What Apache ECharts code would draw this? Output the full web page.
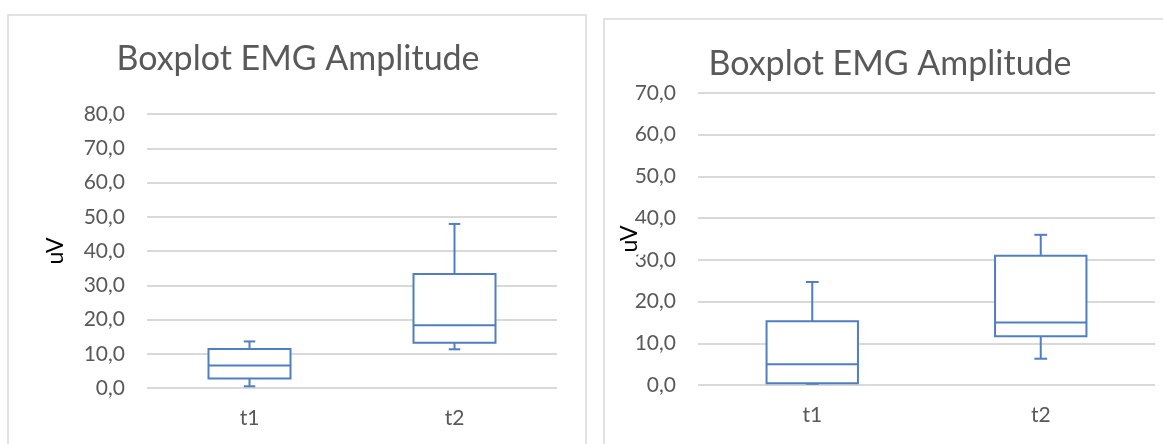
<!DOCTYPE html>
<html>
<head>
<meta charset="utf-8">
<script src="https://cdn.jsdelivr.net/npm/echarts@6/dist/echarts.min.js"></script>
<style>
  html, body { margin: 0; padding: 0; background: #fff; }
  #chart { width: 1163px; height: 444px; }
</style>
</head>
<body>
<div id="chart"></div>
<script>
// Categories shared by both panels
const categories = ['t1', 't2'];

// Five-number summaries per category: [min, Q1, median, Q3, max] (uV)
const leftStats = [
  [0.5, 2.8, 6.6, 11.4, 13.6],
  [11.3, 13.2, 18.3, 33.3, 47.9]
];
const rightStats = [
  [0.3, 0.4, 5.0, 15.3, 24.7],
  [6.3, 11.7, 15.0, 31.0, 36.0]
];

// Axis ranges
const leftAxisMax = 80;
const rightAxisMax = 70;
const axisStep = 10;

const titleText = 'Boxplot EMG Amplitude';
const unitName = 'uV';

const FONT = 'Lato, "Open Sans", sans-serif';
const BLUE = '#4f7fc0';
const GREY_TEXT = '#595959';
const GRID_LINE = '#d9d9d9';

function fmt(v) { return v.toFixed(1).replace('.', ','); }

// Box with whiskers and short end caps, placed through the axis scales
function renderBox(params, api) {
  const cat = api.value(0);
  const vMin = api.value(1), q1 = api.value(2), med = api.value(3), q3 = api.value(4), vMax = api.value(5);
  const band = api.size([1, 0])[0];
  const half = band * 0.2;
  const cap = band * 0.028;
  const pMin = api.coord([cat, vMin]);
  const pQ1 = api.coord([cat, q1]);
  const pMed = api.coord([cat, med]);
  const pQ3 = api.coord([cat, q3]);
  const pMax = api.coord([cat, vMax]);
  const x = pQ1[0];
  const lineStyle = { stroke: BLUE, lineWidth: 2, fill: null };
  return {
    type: 'group',
    children: [
      { type: 'line', shape: { x1: x, y1: pQ3[1], x2: x, y2: pMax[1] }, style: lineStyle },
      { type: 'line', shape: { x1: x - cap, y1: pMax[1], x2: x + cap, y2: pMax[1] }, style: lineStyle },
      { type: 'line', shape: { x1: x, y1: pQ1[1], x2: x, y2: pMin[1] }, style: lineStyle },
      { type: 'line', shape: { x1: x - cap, y1: pMin[1], x2: x + cap, y2: pMin[1] }, style: lineStyle },
      { type: 'rect', shape: { x: x - half, y: pQ3[1], width: half * 2, height: pQ1[1] - pQ3[1] },
        style: { stroke: BLUE, lineWidth: 2, fill: '#fff' } },
      { type: 'line', shape: { x1: x - half, y1: pMed[1], x2: x + half, y2: pMed[1] }, style: lineStyle }
    ]
  };
}

function toRows(stats) {
  return stats.map((s, i) => [i].concat(s));
}

function yAxisFor(gridIndex, max, name) {
  return {
    gridIndex: gridIndex,
    type: 'value',
    min: 0,
    max: max,
    interval: axisStep,
    name: name,
    nameLocation: 'middle',
    nameGap: 80,
    nameTextStyle: { color: '#000', fontSize: 23, fontFamily: FONT },
    axisLine: { show: false },
    axisTick: { show: false },
    axisLabel: { color: GREY_TEXT, fontSize: 21, fontFamily: FONT, margin: 22, formatter: fmt },
    splitLine: { lineStyle: { color: GRID_LINE, width: 2 } }
  };
}

function xAxisFor(gridIndex) {
  return {
    gridIndex: gridIndex,
    type: 'category',
    data: categories,
    axisLine: { show: false },
    axisTick: { show: false },
    axisLabel: { color: GREY_TEXT, fontSize: 21, fontFamily: FONT, margin: 20 },
    splitLine: { show: false }
  };
}

const chart = echarts.init(document.getElementById('chart'), null, { renderer: 'canvas' });

chart.setOption({
  backgroundColor: '#fff',
  animation: false,
  title: [
    { text: titleText, left: 298, top: 42, textAlign: 'center', padding: 0,
      textStyle: { color: GREY_TEXT, fontSize: 34, fontWeight: 'normal', fontFamily: FONT } },
    { text: titleText, left: 890, top: 47, textAlign: 'center', padding: 0,
      textStyle: { color: GREY_TEXT, fontSize: 34, fontWeight: 'normal', fontFamily: FONT } }
  ],
  graphic: [
    { type: 'rect', shape: { x: 8, y: 15, width: 578, height: 440 }, style: { stroke: GRID_LINE, lineWidth: 1.5, fill: null }, z: -1 },
    { type: 'rect', shape: { x: 604, y: 19, width: 578, height: 440 }, style: { stroke: GRID_LINE, lineWidth: 1.5, fill: null }, z: -1 },
    // right panel unit label: sits over the tick labels on a white backing
    { type: 'text', x: 630, y: 239, rotation: Math.PI / 2, z: 100,
      style: { text: unitName, fill: '#000', font: '23px ' + FONT, align: 'center', verticalAlign: 'middle',
               backgroundColor: '#fff', padding: [0, 2, 9, 2] } }
  ],
  grid: [
    { left: 147, right: 606, top: 114, bottom: 56 },
    { left: 698, right: 8, top: 93, bottom: 59 }
  ],
  xAxis: [xAxisFor(0), xAxisFor(1)],
  yAxis: [yAxisFor(0, leftAxisMax, unitName), yAxisFor(1, rightAxisMax, '')],
  series: [
    { type: 'custom', xAxisIndex: 0, yAxisIndex: 0, renderItem: renderBox,
      encode: { x: 0, y: [1, 2, 3, 4, 5] }, data: toRows(leftStats) },
    { type: 'custom', xAxisIndex: 1, yAxisIndex: 1, renderItem: renderBox,
      encode: { x: 0, y: [1, 2, 3, 4, 5] }, data: toRows(rightStats) }
  ]
});
</script>
</body>
</html>
